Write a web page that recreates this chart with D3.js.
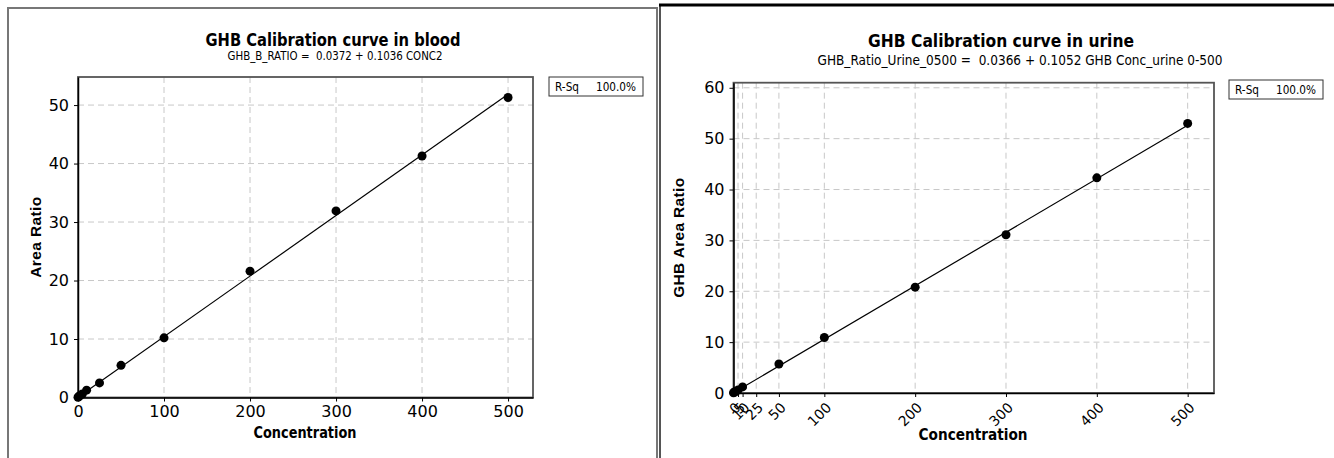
<!DOCTYPE html>
<html>
<head>
<meta charset="utf-8">
<script src="https://cdn.jsdelivr.net/npm/d3@7"></script>
<style>
  body { margin: 0; background: #fff; }
  svg { display: block; font-family: "DejaVu Sans", sans-serif; }
  .grid line { stroke: #c8c8c8; stroke-dasharray: 6,4; stroke-width: 1; }
</style>
</head>
<body>
<script>
// blood calibration
var bloodConc  = [0, 1, 2, 5, 10, 25, 50, 100, 200, 300, 400, 500];
var bloodRatio = [0.05, 0.15, 0.3, 0.6, 1.25, 2.5, 5.5, 10.2, 21.6, 31.9, 41.3, 51.3];
var bloodFit = [0.0372, 0.1036];
var bloodXTicks = [0, 100, 200, 300, 400, 500];
var bloodYTicks = [0, 10, 20, 30, 40, 50];

// urine calibration
var urineConc  = [0, 1, 2, 5, 10, 50, 100, 200, 300, 400, 500];
var urineRatio = [0.05, 0.15, 0.3, 0.6, 1.2, 5.7, 10.9, 20.8, 31.1, 42.3, 53.0];
var urineFit = [0.0366, 0.1052];
var urineXTicks = [0, 5, 10, 25, 50, 100, 200, 300, 400, 500];
var urineYTicks = [0, 10, 20, 30, 40, 50, 60];

var svgWidth = 1334;
var svgHeight = 458;

var svg = d3.select("body")
            .append("svg")
            .attr("width", svgWidth)
            .attr("height", svgHeight);

// panel frames
svg.append("rect")
   .attr("x", 8).attr("y", 8)
   .attr("width", 649).attr("height", 460)
   .attr("fill", "none")
   .attr("stroke", "#777")
   .attr("stroke-width", 2);

svg.append("line")
   .attr("x1", 660).attr("x2", 660)
   .attr("y1", 5).attr("y2", 458)
   .attr("stroke", "#555").attr("stroke-width", 2);
svg.append("line")
   .attr("x1", 659).attr("x2", 1334)
   .attr("y1", 5).attr("y2", 5)
   .attr("stroke", "#000").attr("stroke-width", 3);

// text squeezed to the width measured on the original
function fitText(parent, x, y, len, txt) {
  return parent.append("text")
    .attr("x", x).attr("y", y)
    .attr("text-anchor", "middle")
    .attr("textLength", len)
    .attr("lengthAdjust", "spacingAndGlyphs")
    .style("white-space", "pre")
    .text(txt);
}

function drawPanel(cfg) {
  var g = svg.append("g");

  var xScale = d3.scaleLinear().domain(cfg.xDomain).range([cfg.left, cfg.right]);
  var yScale = d3.scaleLinear().domain(cfg.yDomain).range([cfg.bottom, cfg.top]);

  // gridlines
  var grid = g.append("g").attr("class", "grid");
  grid.selectAll(".gx")
      .data(cfg.xTicks.filter(d => d > 0))
      .enter().append("line")
      .attr("x1", d => xScale(d)).attr("x2", d => xScale(d))
      .attr("y1", cfg.top).attr("y2", cfg.bottom);
  grid.selectAll(".gy")
      .data(cfg.yTicks.filter(d => d > 0))
      .enter().append("line")
      .attr("x1", cfg.left).attr("x2", cfg.right)
      .attr("y1", d => yScale(d)).attr("y2", d => yScale(d));

  // frame
  g.append("rect")
   .attr("x", cfg.left).attr("y", cfg.top)
   .attr("width", cfg.right - cfg.left).attr("height", cfg.bottom - cfg.top)
   .attr("fill", "none").attr("stroke", "#555").attr("stroke-width", 1.8);

  // axes
  var bottomAxis = d3.axisBottom(xScale).tickValues(cfg.xTicks).tickSize(4).tickSizeOuter(0);
  var leftAxis = d3.axisLeft(yScale).tickValues(cfg.yTicks).tickSize(4).tickSizeOuter(0);

  var xg = g.append("g")
            .attr("transform", `translate(0,${cfg.bottom})`)
            .call(bottomAxis);
  var yg = g.append("g")
            .attr("transform", `translate(${cfg.left},0)`)
            .call(leftAxis);

  [xg, yg].forEach(function(a) {
    a.attr("font-family", null);
    a.select(".domain").attr("stroke", "#000").attr("stroke-width", 1.5);
    a.selectAll(".tick line").attr("stroke", "#000");
    a.selectAll(".tick text").attr("fill", "#000").style("font-size", "16px");
  });
  yg.selectAll(".tick text").attr("x", -9);

  if (cfg.rotate) {
    xg.selectAll(".tick text")
      .style("text-anchor", "end")
      .attr("dy", "0.35em")
      .attr("transform", "translate(4,12) rotate(-45)")
      .attr("x", 0).attr("y", 0)
      .style("font-size", "14px");
  } else {
    xg.selectAll(".tick text").attr("y", 8);
  }

  // fitted line
  var line = d3.line().x(d => xScale(d)).y(d => yScale(cfg.fit[0] + cfg.fit[1] * d));
  g.append("path")
   .datum([0, 500])
   .attr("d", line)
   .attr("fill", "none")
   .attr("stroke", "#000")
   .attr("stroke-width", 1.2);

  // points
  g.selectAll("circle")
   .data(cfg.conc)
   .enter().append("circle")
   .attr("cx", d => xScale(d))
   .attr("cy", (d, i) => yScale(cfg.ratio[i]))
   .attr("r", 4.5)
   .attr("fill", "#000");

  // titles
  fitText(g, cfg.titleX, cfg.titleY, cfg.titleLen, cfg.title)
   .style("font-weight", "bold")
   .style("font-size", "18px");
  fitText(g, cfg.subX, cfg.subY, cfg.subLen, cfg.subtitle)
   .style("font-size", cfg.subSize + "px");

  // axis labels
  fitText(g, cfg.xLabelX, cfg.xLabelY, cfg.xLabelLen, "Concentration")
   .style("font-weight", "bold")
   .style("font-size", "16px");
  g.append("text")
   .attr("transform", `translate(${cfg.yLabelX},${(cfg.top + cfg.bottom) / 2}) rotate(-90)`)
   .attr("text-anchor", "middle")
   .attr("textLength", cfg.yLabelLen)
   .attr("lengthAdjust", "spacing")
   .style("font-family", "'Liberation Sans', Arial, sans-serif")
   .style("font-weight", "bold")
   .style("font-size", "15.5px")
   .text(cfg.yLabel);

  // R-Sq box
  var box = g.append("g");
  box.append("rect")
     .attr("x", cfg.boxX).attr("y", cfg.boxY)
     .attr("width", 94).attr("height", 19)
     .attr("fill", "#fff").attr("stroke", "#333").attr("stroke-width", 1);
  fitText(box, cfg.boxX + 18, cfg.boxY + 14, 24, "R-Sq")
     .style("font-size", "13px");
  fitText(box, cfg.boxX + 67, cfg.boxY + 14, 40, "100.0%")
     .style("font-size", "13px");
}

drawPanel({
  xDomain: [0, 529], yDomain: [0, 54.8],
  left: 78, right: 533, top: 77, bottom: 397.5,
  xTicks: bloodXTicks, yTicks: bloodYTicks,
  conc: bloodConc, ratio: bloodRatio, fit: bloodFit,
  title: "GHB Calibration curve in blood",
  subtitle: "GHB_B_RATIO =  0.0372 + 0.1036 CONC2",
  titleX: 333, titleY: 46, titleLen: 255,
  subX: 335, subY: 60, subLen: 215, subSize: 12.5,
  xLabelX: 305, xLabelY: 438, xLabelLen: 103,
  yLabelX: 41, yLabelLen: 81, yLabel: "Area Ratio",
  boxX: 549, boxY: 77, rotate: false
});

drawPanel({
  xDomain: [0, 529], yDomain: [0, 61],
  left: 733.5, right: 1214, top: 82.7, bottom: 393,
  xTicks: urineXTicks, yTicks: urineYTicks,
  conc: urineConc, ratio: urineRatio, fit: urineFit,
  title: "GHB Calibration curve in urine",
  subtitle: "GHB_Ratio_Urine_0500 =  0.0366 + 0.1052 GHB Conc_urine 0-500",
  titleX: 1001, titleY: 47, titleLen: 266,
  subX: 1020, subY: 65, subLen: 405, subSize: 14,
  xLabelX: 973, xLabelY: 440, xLabelLen: 109,
  yLabelX: 684, yLabelLen: 120, yLabel: "GHB Area Ratio",
  boxX: 1229, boxY: 80, rotate: true
});
</script>
</body>
</html>
